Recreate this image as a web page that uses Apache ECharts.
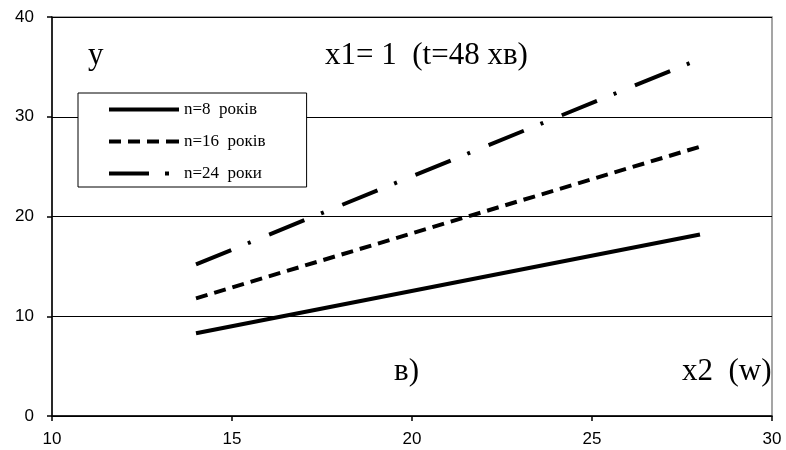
<!DOCTYPE html>
<html><head><meta charset="utf-8">
<script src="https://cdn.jsdelivr.net/npm/echarts@6/dist/echarts.min.js"></script>
<style>html,body{margin:0;padding:0;background:#fff}#c{width:786px;height:450px}</style>
</head><body><div id="c"></div>
<script>
const xValues = [14, 28];
const seriesNames = ['n=8  років', 'n=16  років', 'n=24  роки'];
const n8 = [8.3, 18.2];
const n16 = [11.8, 27.0];
const n24 = [15.2, 35.8];
const xTicks = [10, 15, 20, 25, 30];
const yTicks = [0, 10, 20, 30, 40];

const font = 'Liberation Serif';
const tickFont = 'Liberation Sans';
const pair = (ys) => xValues.map((x, i) => [x, ys[i]]);
const dashes = ['solid', [12, 7], [38, 18, 3, 20]];
const legendIcons = [
  'path://M0,0H70V4H0Z',
  'path://M0,0h12v4h-12z M19,0h12v4h-12z M38,0h12v4h-12z M57,0h13v4h-13z',
  'path://M0,0h40v4h-40z M56,0h4v4h-4z M70,0L70,4Z'
];
const allData = [n8, n16, n24];

const chart = echarts.init(document.getElementById('c'));
chart.setOption({
  animation: false,
  grid: { left: 52, right: 14, top: 17, bottom: 34, show: true, borderColor: '#888', borderWidth: 1.5 },
  xAxis: {
    type: 'value', min: xTicks[0], max: xTicks[xTicks.length - 1], interval: 5,
    axisLine: { lineStyle: { color: '#000', width: 1.5 } },
    axisTick: { show: true, length: 5, lineStyle: { color: '#000', width: 1.5 } },
    axisLabel: { color: '#000', fontFamily: tickFont, fontSize: 17, margin: 15 },
    splitLine: { show: false }
  },
  yAxis: {
    type: 'value', min: yTicks[0], max: yTicks[yTicks.length - 1], interval: 10,
    axisLine: { show: true, lineStyle: { color: '#000', width: 1.5 } },
    axisTick: { show: true, length: 5, lineStyle: { color: '#000', width: 1.5 } },
    axisLabel: { color: '#000', fontFamily: tickFont, fontSize: 17, margin: 18 },
    splitLine: { show: true, lineStyle: { color: '#000', width: 1 } }
  },
  legend: {
    orient: 'vertical', left: 78, top: 93,
    data: seriesNames.map((name, i) => ({ name, icon: legendIcons[i] })),
    symbolKeepAspect: false,
    itemWidth: 70, itemHeight: 4, itemGap: 15,
    padding: [8, 41, 5, 31],
    borderColor: '#000', borderWidth: 1, backgroundColor: '#fff',
    itemStyle: { color: '#000' },
    textStyle: { color: '#000', fontFamily: font, fontSize: 17 }
  },
  series: seriesNames.map((name, i) => ({
    name, type: 'line', data: pair(allData[i]), symbol: 'none', z: 5,
    lineStyle: { color: '#000', width: 4, type: dashes[i] },
    itemStyle: { color: '#000' }
  })),
  graphic: [
    { type: 'text', left: 88, top: 40, style: { text: 'y', font: '31px "Liberation Serif"', fill: '#000' } },
    { type: 'text', left: 325, top: 40, style: { text: 'x1= 1  (t=48 хв)', font: '31px "Liberation Serif"', fill: '#000' } },
    { type: 'text', left: 394, top: 356, style: { text: 'в)', font: '31px "Liberation Serif"', fill: '#000' } },
    { type: 'text', left: 682, top: 356, style: { text: 'x2  (w)', font: '31px "Liberation Serif"', fill: '#000' } }
  ]
});
</script></body></html>
